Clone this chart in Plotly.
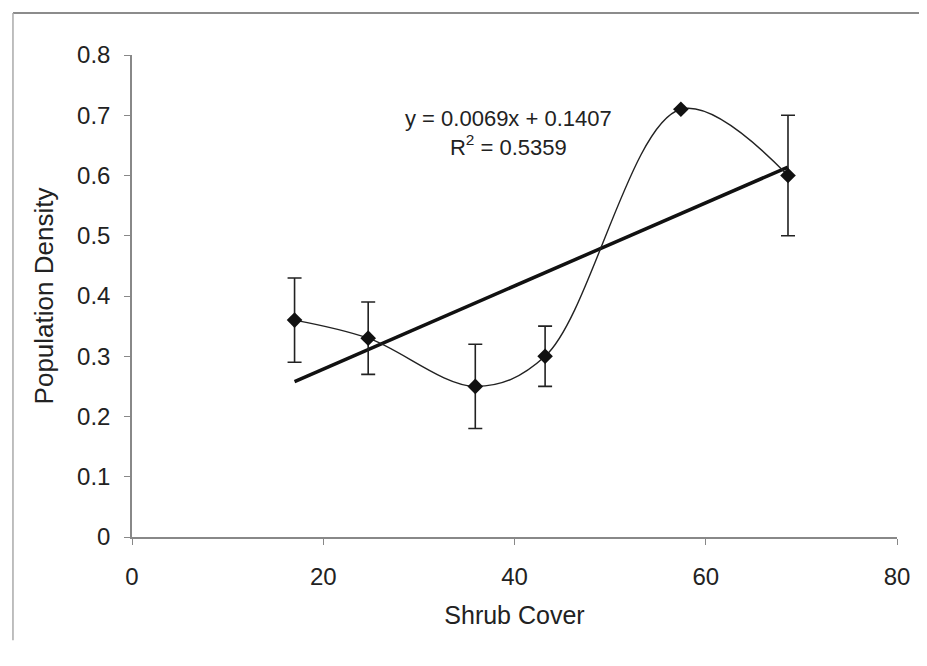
import plotly.graph_objects as go

# Data
shrub_cover = [17.0, 24.7, 35.9, 43.2, 57.4, 68.6]
pop_density = [0.36, 0.33, 0.25, 0.30, 0.71, 0.60]
error_vals = [0.07, 0.06, 0.07, 0.05, 0.0, 0.10]

trend_slope = 0.0069
trend_intercept = 0.1407
r_squared = 0.5359

x_ticks = [0, 20, 40, 60, 80]
y_ticks = [0, 0.1, 0.2, 0.3, 0.4, 0.5, 0.6, 0.7, 0.8]

FONT = "Liberation Sans, Arial, sans-serif"

trend_x = [min(shrub_cover), max(shrub_cover)]
trend_y = [trend_slope * v + trend_intercept for v in trend_x]

fig = go.Figure()

# Linear trendline
fig.add_trace(go.Scatter(
    x=trend_x, y=trend_y, mode="lines",
    line=dict(color="#111111", width=3.5),
    hoverinfo="skip", showlegend=False,
))

# Smoothed data line with markers and error bars
fig.add_trace(go.Scatter(
    x=shrub_cover, y=pop_density, mode="lines+markers",
    line=dict(color="#222222", width=1.4, shape="spline", smoothing=1.0),
    marker=dict(symbol="diamond", size=12, color="#111111"),
    error_y=dict(type="data", array=error_vals, visible=True,
                 color="#222222", thickness=1.6, width=7),
    showlegend=False,
))

fig.add_annotation(
    x=39.4, y=0.67, xref="x", yref="y",
    text=f"y = {trend_slope:.4f}x + {trend_intercept:.4f}<br>R<sup>2</sup> = {r_squared:.4f}",
    showarrow=False, align="center", xanchor="center", yanchor="middle",
    font=dict(family=FONT, size=22, color="#222222"),
)

# Chart-area frame remnants (top and left border)
fig.add_shape(type="line", xref="paper", yref="paper",
              x0=-0.1556, x1=1.04, y0=1.087, y1=1.087,
              line=dict(color="#666666", width=1.5))
fig.add_shape(type="line", xref="paper", yref="paper",
              x0=-0.1556, x1=-0.1556, y0=1.087, y1=-0.214,
              line=dict(color="#aaaaaa", width=1.5))

fig.update_xaxes(
    range=[0, 80], tickvals=x_ticks, ticktext=[str(t) for t in x_ticks],
    showgrid=False, zeroline=False, showline=True, linecolor="#888888", linewidth=1.5,
    ticks="outside", ticklen=6, tickcolor="#888888",
    tickfont=dict(family=FONT, size=24, color="#222222"),
    ticklabelstandoff=11,
    title=dict(text="Shrub Cover", font=dict(family=FONT, size=25, color="#222222"), standoff=18),
)
fig.update_yaxes(
    range=[0, 0.8], tickvals=y_ticks, ticktext=[f"{t:.1f}" if t else "0" for t in y_ticks],
    showgrid=False, zeroline=False, showline=True, linecolor="#888888", linewidth=1.5,
    ticks="outside", ticklen=6, tickcolor="#888888",
    tickfont=dict(family=FONT, size=24, color="#222222"),
    ticklabelstandoff=9,
    title=dict(text="Population Density", font=dict(family=FONT, size=26, color="#222222"), standoff=16),
)

fig.update_layout(
    width=927, height=666,
    margin=dict(l=124, r=38, t=47, b=137),
    paper_bgcolor="white", plot_bgcolor="white",
    showlegend=False,
)

fig.write_html("out.html")
